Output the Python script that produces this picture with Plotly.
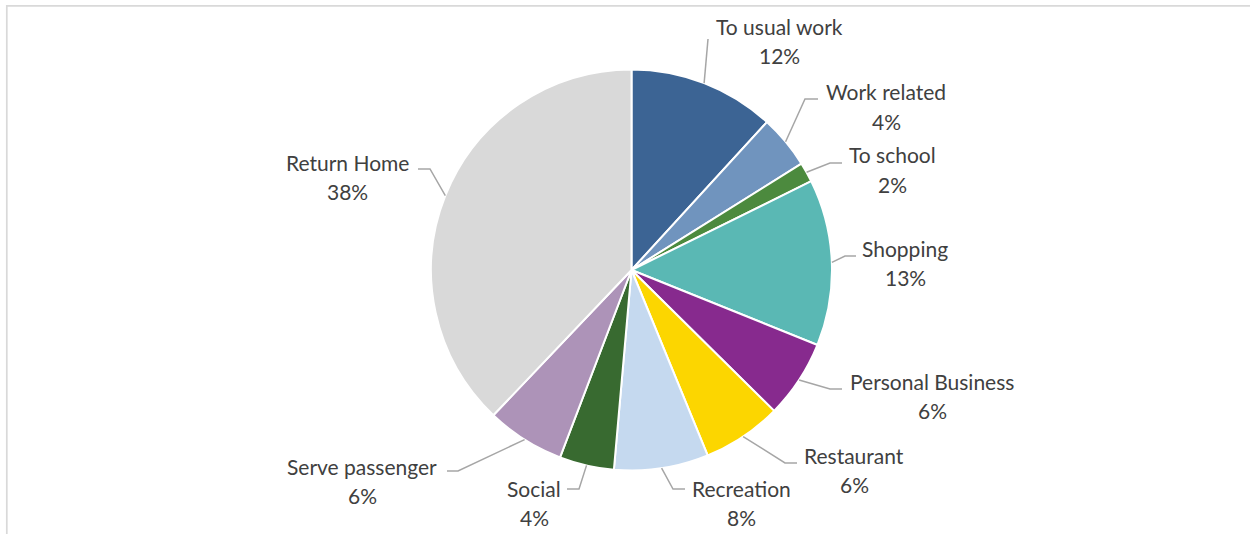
import math
import plotly.graph_objects as go

# Trip purpose shares (percent of trips)
categories = ["To usual work", "Work related", "To school", "Shopping", "Personal Business",
              "Restaurant", "Recreation", "Social", "Serve passenger", "Return Home"]
shares = [11.8, 4.3, 1.6, 13.4, 6.3, 6.4, 7.6, 4.4, 6.3, 37.9]

slice_colors = ["#3c6494", "#7094be", "#4c8a3e", "#5ab8b4", "#872a8e",
                "#fcd600", "#c5d9ef", "#386a30", "#ad93b8", "#d9d9d9"]

W, H = 1250, 534
CX, CY, R = 631.5, 270.0, 200.5   # pie centre and radius in pixels
LINE_GAP = 29.5                    # distance between name line and percent line
TEXT_COLOR = "#404040"
FONT = "Lato"
FONT_SIZE = 21


def px(x):
    return x / W


def py(y):
    return 1 - y / H


# Label placement: text centre x, name-line y, leader elbow and leader end (pixels)
label_layout = {
    "To usual work":     dict(x=779, y=26,  elbow=(708, 39),  end=(708, 39)),
    "Work related":      dict(x=886, y=92,  elbow=(805, 99),  end=(818, 99)),
    "To school":         dict(x=892, y=155, elbow=(830, 163), end=(842, 163)),
    "Shopping":          dict(x=905, y=248, elbow=(845, 256), end=(856, 256)),
    "Personal Business": dict(x=932, y=381, elbow=(830, 389), end=(842, 389)),
    "Restaurant":        dict(x=854, y=455, elbow=(785, 463), end=(797, 463)),
    "Recreation":        dict(x=741, y=488, elbow=(673, 489), end=(685, 489)),
    "Social":            dict(x=534, y=488, elbow=(579, 489), end=(567, 489)),
    "Serve passenger":   dict(x=362, y=466, elbow=(458, 471), end=(447, 471)),
    "Return Home":       dict(x=347, y=162, elbow=(430, 169), end=(418, 169)),
}

fig = go.Figure(
    go.Pie(
        labels=categories,
        values=shares,
        sort=False,
        direction="clockwise",
        rotation=0,
        marker=dict(colors=slice_colors, line=dict(color="white", width=2)),
        textinfo="none",
        showlegend=False,
        domain=dict(x=[px(CX - R), px(CX + R)], y=[py(CY + R), py(CY - R)]),
    )
)

total = sum(shares)
annotations = []
shapes = []
cum = 0.0
for name, val in zip(categories, shares):
    mid = (cum + val / 2) / total * 2 * math.pi
    cum += val
    sx = CX + R * math.sin(mid)
    sy = CY - R * math.cos(mid)
    lay = label_layout[name]
    ex, ey = lay["elbow"]
    tx, ty = lay["end"]
    shapes.append(dict(
        type="path", xref="paper", yref="paper",
        path=f"M {px(sx)} {py(sy)} L {px(ex)} {py(ey)} L {px(tx)} {py(ty)}",
        line=dict(color="#a6a6a6", width=1.5),
    ))
    pct = f"{round(val / total * 100)}%"
    for text, y in ((name, lay["y"]), (pct, lay["y"] + LINE_GAP)):
        annotations.append(dict(
            x=px(lay["x"]), y=py(y), xref="paper", yref="paper",
            text=text, showarrow=False, xanchor="center", yanchor="middle",
            font=dict(family=FONT, size=FONT_SIZE, color=TEXT_COLOR),
        ))

# chart frame
shapes.append(dict(
    type="rect", xref="paper", yref="paper",
    x0=px(6.8), y0=py(560), x1=px(1270), y1=py(5.8),
    line=dict(color="#d9d9d9", width=1.7), fillcolor="rgba(0,0,0,0)",
))

fig.update_layout(
    width=W, height=H,
    margin=dict(l=0, r=0, t=0, b=0),
    paper_bgcolor="white",
    plot_bgcolor="white",
    annotations=annotations,
    shapes=shapes,
)

fig.write_html("out.html")
